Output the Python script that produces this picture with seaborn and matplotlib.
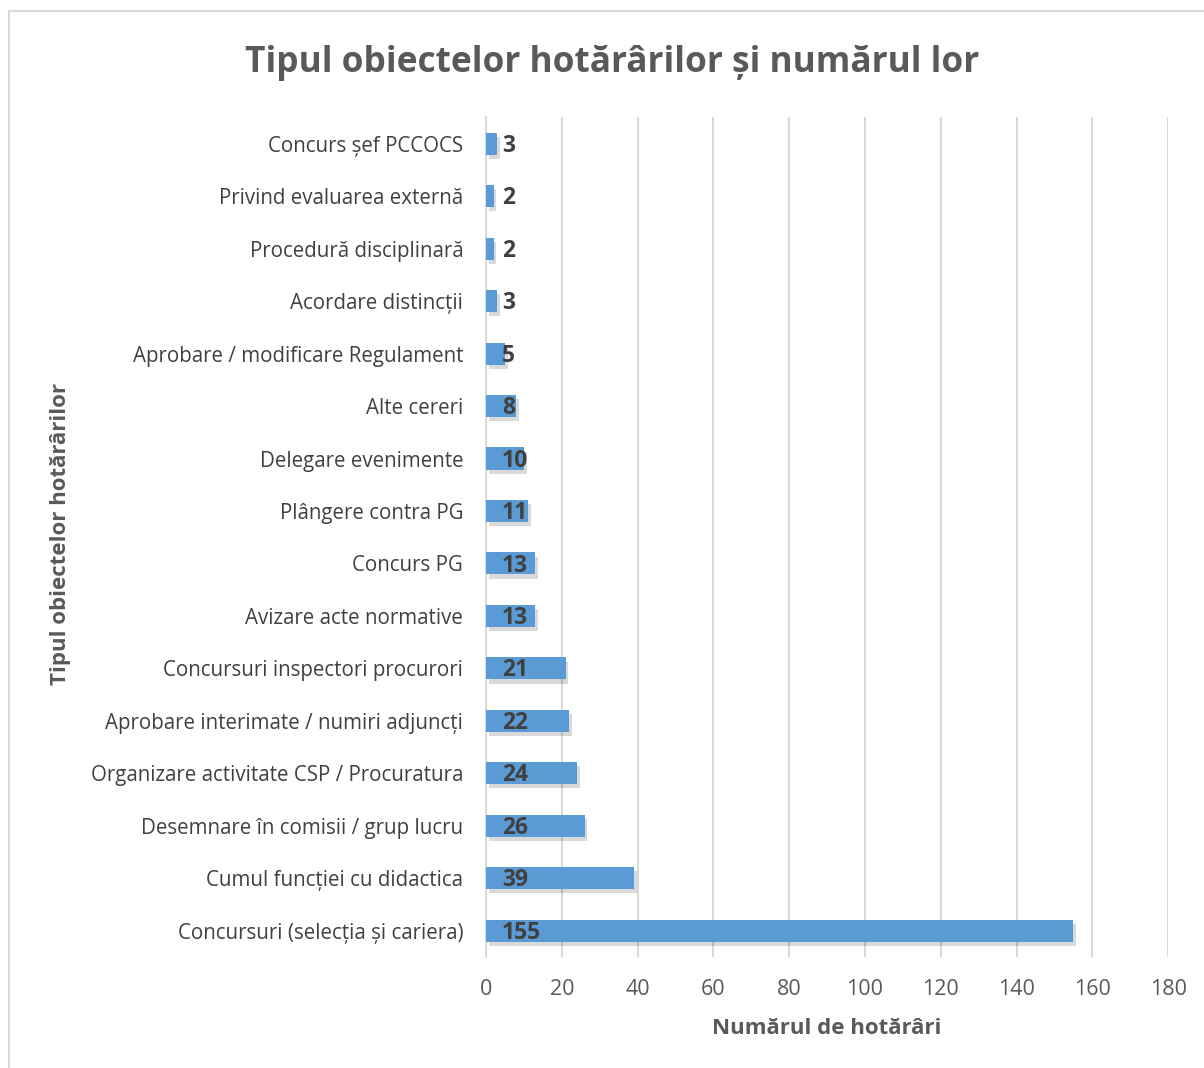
import matplotlib
matplotlib.use("Agg")
import matplotlib.pyplot as plt
import matplotlib.patheffects as pe
import seaborn as sns
import pandas as pd

categories = [
    "Concurs șef PCCOCS",
    "Privind evaluarea externă",
    "Procedură disciplinară",
    "Acordare distincții",
    "Aprobare / modificare Regulament",
    "Alte cereri",
    "Delegare evenimente",
    "Plângere contra PG",
    "Concurs PG",
    "Avizare acte normative",
    "Concursuri inspectori procurori",
    "Aprobare interimate / numiri adjuncți",
    "Organizare activitate CSP / Procuratura",
    "Desemnare în comisii / grup lucru",
    "Cumul funcției cu didactica",
    "Concursuri (selecția și cariera)",
]
values = [3, 2, 2, 3, 5, 8, 10, 11, 13, 13, 21, 22, 24, 26, 39, 155]
xticks = [0, 20, 40, 60, 80, 100, 120, 140, 160, 180]

title = "Tipul obiectelor hotărârilor și numărul lor"
xlabel = "Numărul de hotărâri"
ylabel = "Tipul obiectelor hotărârilor"

df = pd.DataFrame({"cat": categories, "val": values})

sns.set_theme(style="white")
plt.rcParams["font.family"] = ["Open Sans", "DejaVu Sans"]

fig = plt.figure(figsize=(12.04, 10.68), dpi=100)
ax = fig.add_axes([0.4037, 0.104, 0.5665, 0.786])

sns.barplot(data=df, x="val", y="cat", orient="h", color="#5B9BD5",
            saturation=1, width=0.42, ax=ax, zorder=3)

for p in ax.patches:
    p.set_path_effects([pe.SimplePatchShadow(offset=(2, -3), shadow_rgbFace="#000000", alpha=0.15), pe.Normal()])
    p.set_edgecolor("none")

for i, v in enumerate(values):
    ax.annotate(str(v), xy=(0, i), xytext=(11.5, -1.5), textcoords="offset points",
                ha="left", va="center", fontsize=16.5, fontweight="bold",
                color="#404040", zorder=5)

ax.set_xlim(0, 180)
ax.set_xticks(xticks)
ax.set_xticklabels([str(t) for t in xticks], fontsize=15.5, color="#595959")
ax.tick_params(axis="y", labelsize=14.8, labelcolor="#404040", length=0, pad=16.5)
ax.tick_params(axis="x", length=0, pad=16)
ax.grid(axis="x", color="#D9D9D9", linewidth=1.5, zorder=0)
for s in ["top", "right", "bottom"]:
    ax.spines[s].set_visible(False)
ax.spines["left"].set_color("#D9D9D9")
ax.spines["left"].set_linewidth(1.5)

ax.set_xlabel(xlabel, fontsize=16, fontweight="bold", color="#595959", labelpad=13)
ax.set_ylabel("")
fig.text(0.050, 0.50, ylabel, rotation=90, ha="center", va="center",
         fontsize=16, fontweight="bold", color="#595959")
fig.text(0.508, 0.941, title, ha="center", va="center", fontsize=25.4,
         fontweight="bold", color="#595959")

border = plt.Rectangle((0.0075, -0.01), 1.0, 1.0 - 0.0103 + 0.01, transform=fig.transFigure,
                       fill=False, edgecolor="#D9D9D9", linewidth=1.5)
fig.add_artist(border)

fig.savefig("out.png", dpi=100)
